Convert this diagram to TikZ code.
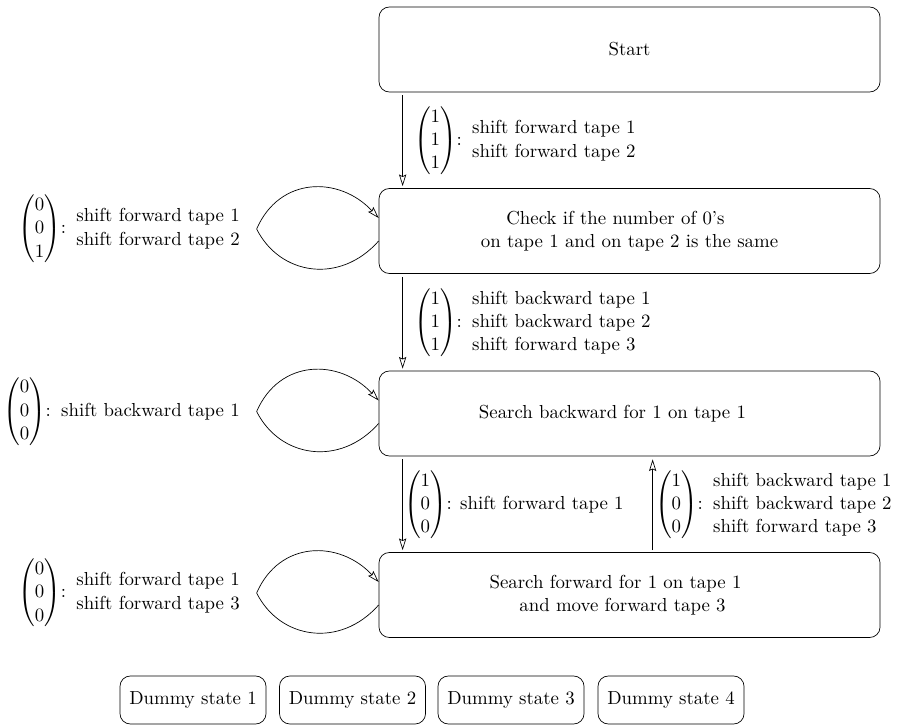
\documentclass[11pt,tikz,border=0pt]{standalone}
\usepackage{amsmath}
\usetikzlibrary{arrows.meta,calc}
\newcommand{\tvec}[3]{$\begin{pmatrix}#1\\#2\\#3\end{pmatrix}$}
\begin{document}
\begin{tikzpicture}[x=0.5814pt,y=-0.5814pt,
  statebox/.style={draw, rounded corners=6pt, minimum width=291.3pt, minimum height=49.4pt, align=center, inner sep=0pt},
  dummybox/.style={draw, rounded corners=6pt, minimum width=84.9pt, minimum height=27.9pt, inner sep=0pt},
  arr/.style={-{Stealth[open,length=6.8pt,width=4.2pt,inset=1pt]}},
  lbl/.style={inner sep=3.6pt}]
\useasboundingbox (0,0) rectangle (897,726);
\node[statebox] (start) at (629.5,49.5) {Start};
\node[statebox] (chk) at (629.5,231) {Check if the number of 0's\rule{16.3pt}{0pt}\\on tape 1 and on tape 2 is the same};
\node[statebox] (sb) at (629.5,413.5) {Search backward for 1 on tape 1\rule{19.8pt}{0pt}};
\node[statebox] (sf) at (629.5,595) {Search forward for 1 on tape 1\rule{16.3pt}{0pt}\\and move forward tape 3\rule{8.1pt}{0pt}};

\node[dummybox] (d1) at (193,700) {Dummy state 1};
\node[dummybox] (d2) at (352.5,700) {Dummy state 2};
\node[dummybox] (d3) at (511,700) {Dummy state 3};
\node[dummybox] (d4) at (671,700) {Dummy state 4};

% vertical transitions
\draw[arr] ($(start.south west)+(24,3)$) -- node[lbl, anchor=west, xshift=5*0.5814pt]
  {\tvec{1}{1}{1}:\begin{tabular}{l}shift forward tape 1\\shift forward tape 2\end{tabular}}
  ($(chk.north west)+(24,-2)$);
\draw[arr] ($(chk.south west)+(24,3)$) -- node[lbl, anchor=west, xshift=5*0.5814pt]
  {\tvec{1}{1}{1}:\begin{tabular}{l}shift backward tape 1\\shift backward tape 2\\shift forward tape 3\end{tabular}}
  ($(sb.north west)+(24,-2)$);
\draw[arr] ($(sb.south west)+(24,3)$) -- node[lbl, anchor=west, xshift=-5*0.5814pt]
  {\tvec{1}{0}{0}: shift forward tape 1}
  ($(sf.north west)+(24,-2)$);
\draw[arr] ($(sf.north west)+(274,-2)$) -- node[lbl, anchor=west, xshift=-4*0.5814pt]
  {\tvec{1}{0}{0}:\begin{tabular}{l}shift backward tape 1\\shift backward tape 2\\shift forward tape 3\end{tabular}}
  ($(sb.south west)+(274,3)$);

% self loops
\draw[arr] ($(chk.west)+(0,10)$) .. controls +(-39,44) and +(23,46) .. ($(chk.west)+(-122,-2)$)
  node[lbl, anchor=east] {\tvec{0}{0}{1}:\begin{tabular}{l}shift forward tape 1\\shift forward tape 2\end{tabular}}
  .. controls +(23,-53) and +(-39,-42) .. ($(chk.west)+(0,-13)$);
\draw[arr] ($(sb.west)+(0,10)$) .. controls +(-39,44) and +(23,46) .. ($(sb.west)+(-122,-2)$)
  node[lbl, anchor=east] {\tvec{0}{0}{0}:\begin{tabular}{l}shift backward tape 1\end{tabular}}
  .. controls +(23,-53) and +(-39,-42) .. ($(sb.west)+(0,-13)$);
\draw[arr] ($(sf.west)+(0,10)$) .. controls +(-39,44) and +(23,46) .. ($(sf.west)+(-122,-2)$)
  node[lbl, anchor=east] {\tvec{0}{0}{0}:\begin{tabular}{l}shift forward tape 1\\shift forward tape 3\end{tabular}}
  .. controls +(23,-53) and +(-39,-42) .. ($(sf.west)+(0,-13)$);
\end{tikzpicture}
\end{document}
